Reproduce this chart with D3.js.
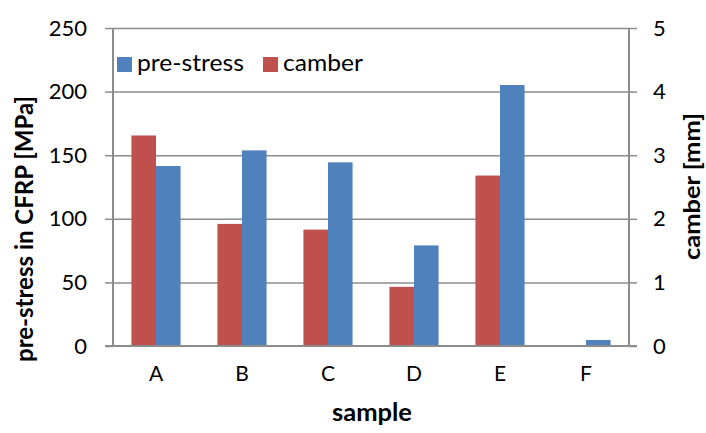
<!DOCTYPE html>
<html><head><meta charset="utf-8">
<script src="https://cdn.jsdelivr.net/npm/d3@7"></script>
<style>body{margin:0;background:#fff}svg{display:block}text{font-family:Lato,"Open Sans",sans-serif;fill:#000}</style>
</head><body>
<svg id="c" width="706" height="433"></svg>
<script>
const categories = ["A","B","C","D","E","F"];
const preStress = [141.5, 153.8, 144.4, 79.1, 205.2, 4.7];   // MPa (left axis)
const camber    = [3.31, 1.92, 1.83, 0.93, 2.68, 0];        // mm (right axis)
const leftTicks = [0,50,100,150,200,250];
const rightTicks = [0,1,2,3,4,5];
const seriesNames = ["pre-stress","camber"];
const colors = {"pre-stress":"#4F81BD","camber":"#C0504D"};

const svg = d3.select("#c");
const L=113, R=629, T=28, B=346;
const x = d3.scaleBand().domain(categories).range([L,R]).paddingInner(0).paddingOuter(0);
const yL = d3.scaleLinear().domain([0,250]).range([B,T]);
const yR = d3.scaleLinear().domain([0,5]).range([B,T]);
const barW = x.bandwidth()/3.5;

// gridlines
svg.append("g").selectAll("line").data(leftTicks.slice(1)).join("line")
  .attr("x1",L).attr("x2",R).attr("y1",d=>yL(d)+0.5).attr("y2",d=>yL(d)+0.5)
  .attr("stroke","#8c8c8c").attr("stroke-width",1.5);

// bars
const g = svg.append("g");
g.selectAll("rect.cam").data(categories).join("rect").attr("class","cam")
  .attr("x",(d)=>x(d)+x.bandwidth()/2-barW).attr("width",barW)
  .attr("y",(d,i)=>yR(camber[i])).attr("height",(d,i)=>B-yR(camber[i]))
  .attr("fill",colors.camber);
g.selectAll("rect.pre").data(categories).join("rect").attr("class","pre")
  .attr("x",(d)=>x(d)+x.bandwidth()/2).attr("width",barW)
  .attr("y",(d,i)=>yL(preStress[i])).attr("height",(d,i)=>B-yL(preStress[i]))
  .attr("fill",colors["pre-stress"]);

// axes
const axL = svg.append("g").attr("transform",`translate(${L},0)`)
  .call(d3.axisLeft(yL).tickValues(leftTicks).tickSize(8).tickPadding(18));
const axR = svg.append("g").attr("transform",`translate(${R},0)`)
  .call(d3.axisRight(yR).tickValues(rightTicks).tickFormat(d3.format("d")).tickSize(8).tickPadding(16));
const axB = svg.append("g").attr("transform",`translate(0,${B})`)
  .call(d3.axisBottom(x).tickSize(0).tickPadding(20));
[axL,axR,axB].forEach(a=>{
  a.select(".domain").attr("stroke","#8c8c8c").attr("stroke-width",2);
  a.selectAll(".tick line").attr("stroke","#8c8c8c").attr("stroke-width",1.5);
  a.selectAll("text").attr("font-size",22).attr("font-family","Lato,sans-serif").attr("fill","#000");
});
axB.selectAll("text").attr("font-size",21);
axB.select(".domain").attr("d",`M${L-8},0H${R+8}`);
axL.select(".domain").attr("d",`M0,${T}V${B}`);
axR.select(".domain").attr("d",`M0,${T}V${B}`);

// axis titles
svg.append("text").attr("transform",`translate(33,229) rotate(-90)`)
  .attr("text-anchor","middle").attr("font-weight","bold").attr("font-size",24)
  .attr("textLength",266).attr("lengthAdjust","spacingAndGlyphs")
  .text("pre-stress in CFRP [MPa]");
svg.append("text").attr("transform",`translate(700,186.5) rotate(-90)`)
  .attr("text-anchor","middle").attr("font-weight","bold").attr("font-size",23)
  .attr("textLength",147).attr("lengthAdjust","spacingAndGlyphs")
  .text("camber [mm]");
svg.append("text").attr("x",372).attr("y",421)
  .attr("text-anchor","middle").attr("font-weight","bold").attr("font-size",24)
  .attr("textLength",80).attr("lengthAdjust","spacingAndGlyphs")
  .text("sample");

// legend
const leg = svg.append("g");
const legX = [117, 263];
const legLen = [107, 80];
seriesNames.forEach((s,i)=>{
  leg.append("rect").attr("x",legX[i]).attr("y",57).attr("width",15).attr("height",15).attr("fill",colors[s]);
  leg.append("text").attr("x",legX[i]+20).attr("y",71).attr("font-size",23)
    .attr("textLength",legLen[i]).attr("lengthAdjust","spacingAndGlyphs").text(s);
});
</script>
</body></html>
